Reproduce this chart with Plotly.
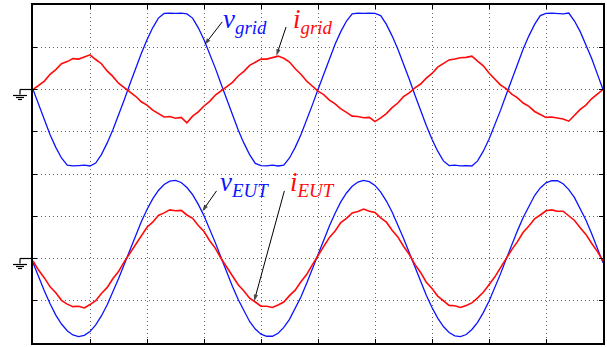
import plotly.graph_objects as go

# Oscilloscope traces, values in vertical divisions, one sample every 0.1 div (0.5 ms)
v_grid = [0.00, -0.37, -0.74, -1.07, -1.37, -1.62, -1.79, -1.81, -1.80, -1.79, -1.81, -1.74, -1.54, -1.27, -0.96, -0.62, -0.25, 0.13, 0.50, 0.85, 1.18, 1.46, 1.69, 1.80, 1.81, 1.80, 1.81, 1.79, 1.69, 1.46, 1.18, 0.85, 0.50, 0.13,
          -0.25, -0.62, -0.96, -1.27, -1.54, -1.75, -1.80, -1.81, -1.79, -1.81, -1.79, -1.62, -1.37, -1.07, -0.74, -0.37, 0.00, 0.37, 0.74, 1.07, 1.37, 1.62, 1.79, 1.81, 1.80, 1.81, 1.80, 1.75, 1.54, 1.27, 0.96, 0.62, 0.25,
          -0.13, -0.50, -0.85, -1.18, -1.46, -1.69, -1.80, -1.79, -1.81, -1.80, -1.81, -1.69, -1.46, -1.18, -0.85, -0.50, -0.13, 0.25, 0.62, 0.96, 1.27, 1.54, 1.75, 1.80, 1.81, 1.80, 1.79, 1.81, 1.62, 1.37, 1.07, 0.74, 0.37, 0.00]

i_grid = [0.00, 0.11, 0.20, 0.36, 0.47, 0.61, 0.66, 0.73, 0.72, 0.77, 0.82, 0.71, 0.61, 0.44, 0.31, 0.15, 0.05, -0.07, -0.16, -0.29, -0.37, -0.49, -0.57, -0.65, -0.64, -0.68, -0.66, -0.79, -0.63, -0.53, -0.39, -0.28, -0.13, -0.03,
          0.08, 0.17, 0.32, 0.43, 0.57, 0.64, 0.72, 0.72, 0.76, 0.79, 0.74, 0.65, 0.49, 0.36, 0.20, 0.09, -0.04, -0.12, -0.25, -0.34, -0.46, -0.54, -0.63, -0.64, -0.67, -0.66, -0.76, -0.67, -0.57, -0.43, -0.32, -0.17, -0.08,
          0.04, 0.13, 0.27, 0.38, 0.53, 0.62, 0.70, 0.72, 0.75, 0.76, 0.79, 0.67, 0.56, 0.39, 0.26, 0.11, 0.02, -0.11, -0.20, -0.32, -0.40, -0.52, -0.59, -0.66, -0.65, -0.68, -0.70, -0.75, -0.61, -0.47, -0.37, -0.22, -0.11, 0.00]

v_eut = [-0.10, -0.44, -0.77, -1.07, -1.34, -1.55, -1.71, -1.81, -1.85, -1.82, -1.73, -1.57, -1.36, -1.10, -0.81, -0.48, -0.14, 0.21, 0.55, 0.87, 1.16, 1.41, 1.61, 1.75, 1.83, 1.85, 1.80, 1.68, 1.51, 1.28, 1.01, 0.70, 0.37, 0.02,
         -0.33, -0.66, -0.97, -1.25, -1.49, -1.67, -1.79, -1.84, -1.84, -1.77, -1.63, -1.44, -1.19, -0.91, -0.59, -0.25, 0.10, 0.44, 0.77, 1.07, 1.34, 1.55, 1.71, 1.81, 1.85, 1.82, 1.73, 1.57, 1.36, 1.10, 0.81, 0.48, 0.14,
         -0.21, -0.55, -0.87, -1.16, -1.41, -1.61, -1.75, -1.83, -1.85, -1.80, -1.68, -1.51, -1.28, -1.01, -0.70, -0.37, -0.02, 0.33, 0.66, 0.97, 1.25, 1.49, 1.67, 1.79, 1.84, 1.84, 1.77, 1.63, 1.44, 1.19, 0.91, 0.59, 0.25, -0.10]

i_eut = [-0.06, -0.28, -0.46, -0.67, -0.81, -0.99, -1.08, -1.14, -1.13, -1.17, -1.09, -1.00, -0.83, -0.69, -0.48, -0.31, -0.08, 0.12, 0.35, 0.52, 0.74, 0.86, 1.02, 1.08, 1.15, 1.13, 1.14, 1.03, 0.95, 0.78, 0.64, 0.42, 0.24, 0.00,
         -0.21, -0.40, -0.62, -0.77, -0.94, -1.03, -1.13, -1.13, -1.16, -1.10, -1.03, -0.88, -0.75, -0.55, -0.38, -0.15, 0.07, 0.26, 0.50, 0.65, 0.85, 0.95, 1.08, 1.11, 1.17, 1.12, 1.09, 0.96, 0.86, 0.67, 0.51, 0.29, 0.10,
         -0.14, -0.33, -0.56, -0.71, -0.89, -0.99, -1.11, -1.12, -1.16, -1.11, -1.05, -0.93, -0.80, -0.62, -0.44, -0.22, 0.00, 0.21, 0.40, 0.62, 0.77, 0.94, 1.03, 1.13, 1.15, 1.12, 1.12, 1.00, 0.90, 0.73, 0.57, 0.36, 0.17, -0.06]

# label texts and pointer arrows (tail -> head, in divisions)
label_texts = ["<i>v</i><sub><i>grid</i></sub>", "<i>i</i><sub><i>grid</i></sub>",
               "<i>v</i><sub><i>EUT</i></sub>", "<i>i</i><sub><i>EUT</i></sub>"]
label_x = [3.30, 4.52, 3.24, 4.48]
label_y = [3.62, 3.62, -0.24, -0.24]
arrow_tail_x = [3.32, 4.44, 3.22, 4.41]
arrow_tail_y = [3.60, 3.48, -0.40, -0.40]
arrow_head_x = [3.01, 4.27, 2.97, 3.88]
arrow_head_y = [3.06, 2.80, -0.88, -3.01]

SAMPLE_DIV = 0.1
TOP_OFFSET = 2.0
BOTTOM_OFFSET = -2.0
BLUE = "#0a14ff"
RED = "#ff0a0a"
label_colors = [BLUE, RED, BLUE, RED]

t = [i * SAMPLE_DIV for i in range(len(v_grid))]

fig = go.Figure()
fig.add_trace(go.Scatter(x=t, y=[v + TOP_OFFSET for v in v_grid], mode="lines",
                         line=dict(color=BLUE, width=1.3)))
fig.add_trace(go.Scatter(x=t, y=[v + TOP_OFFSET for v in i_grid], mode="lines",
                         line=dict(color=RED, width=1.6)))
fig.add_trace(go.Scatter(x=t, y=[v + BOTTOM_OFFSET for v in v_eut], mode="lines",
                         line=dict(color=BLUE, width=1.3)))
fig.add_trace(go.Scatter(x=t, y=[v + BOTTOM_OFFSET for v in i_eut], mode="lines",
                         line=dict(color=RED, width=1.6)))

# pointer arrows
for tx, ty, hx, hy in zip(arrow_tail_x, arrow_tail_y, arrow_head_x, arrow_head_y):
    fig.add_trace(go.Scatter(x=[tx, hx], y=[ty, hy], mode="lines+markers",
                             line=dict(color="black", width=1),
                             marker=dict(symbol="arrow", size=[0, 7], angleref="previous",
                                         color="black", line=dict(width=0)),
                             hoverinfo="skip"))

axis_common = dict(showgrid=True, gridcolor="#666666", griddash="1px,3px", gridwidth=1,
                   showline=True, linecolor="black", linewidth=2, mirror="ticks",
                   ticks="inside", ticklen=4, tickcolor="black", tickwidth=1,
                   showticklabels=False, zeroline=False, fixedrange=True)
fig.update_xaxes(range=[0, 10], dtick=1, tick0=0, **axis_common)
fig.update_yaxes(range=[-4, 4], dtick=1, tick0=0, **axis_common)

# ground symbols
shapes = []
for yc in (0.75, 0.25):
    common = dict(type="line", xref="paper", yref="paper", xsizemode="pixel", ysizemode="pixel",
                  xanchor=0, yanchor=yc, line=dict(color="black", width=1.2))
    shapes.append(dict(x0=-13, x1=0, y0=0, y1=0, **common))
    shapes.append(dict(x0=-13, x1=-13, y0=0, y1=-5, **common))
    shapes.append(dict(x0=-20, x1=-6, y0=-6, y1=-6, **common))
    shapes.append(dict(x0=-17, x1=-9, y0=-8, y1=-8, **common))
    shapes.append(dict(x0=-15, x1=-11, y0=-10, y1=-10, **common))
fig.update_layout(shapes=shapes)

FONT = "Liberation Serif"
for txt, col, x, y in zip(label_texts, label_colors, label_x, label_y):
    fig.add_annotation(x=x, y=y, text=txt, showarrow=False, xanchor="left", yanchor="middle",
                       font=dict(family=FONT, size=27, color=col))

fig.update_layout(width=607, height=347, margin=dict(l=33, r=2, t=5, b=4),
                  paper_bgcolor="white", plot_bgcolor="white", showlegend=False)

fig.write_html("out.html")
